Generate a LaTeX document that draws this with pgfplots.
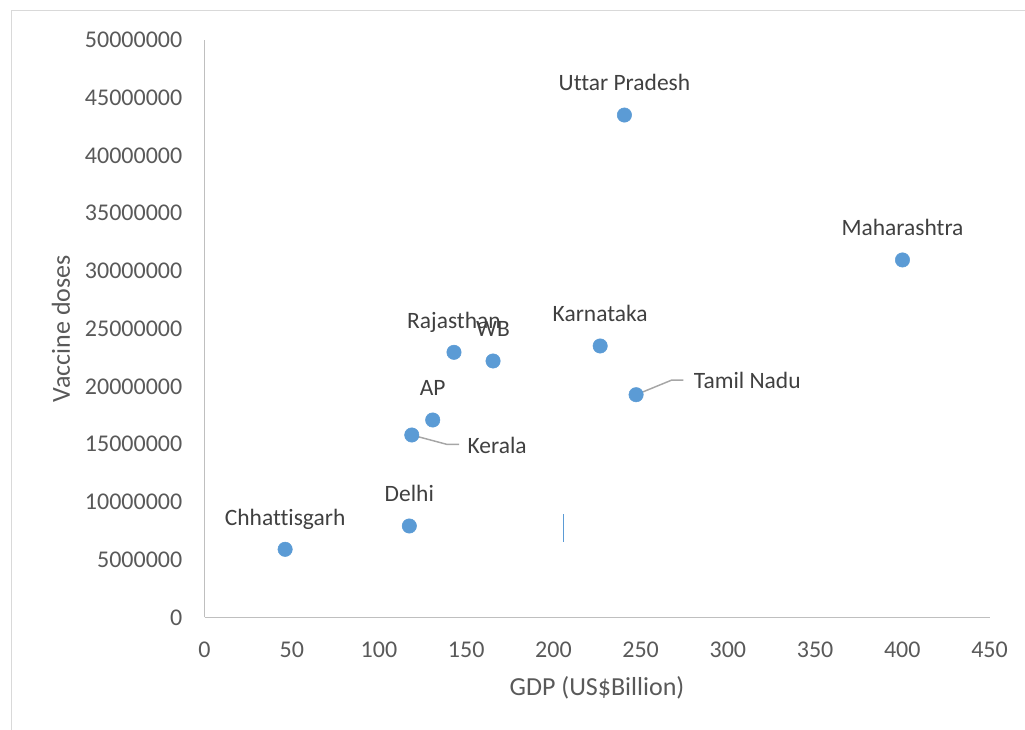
\documentclass[border=0pt]{standalone}
\usepackage{pgfplots}
\pgfplotsset{compat=1.18}
\usepackage{pgfplotstable}
\usepackage{fontspec}
\setmainfont{Carlito}[Ligatures=NoCommon]
\definecolor{pt}{HTML}{5B9BD5}
\definecolor{axl}{HTML}{BFBFBF}
\definecolor{tick}{HTML}{595959}
\definecolor{lab}{HTML}{404040}
\definecolor{lead}{HTML}{A6A6A6}
\definecolor{brd}{HTML}{D9D9D9}
\pgfplotstableread[col sep=comma]{
x,y,label,dx,dy
46.2,5890000,Chhattisgarh,0,18.2
117.4,7910000,Delhi,0,18.2
118.8,15790000,Kerala,64,-13.5
130.8,17090000,AP,0,18.2
143.0,22950000,Rajasthan,0,18.2
165.4,22200000,WB,0,18.2
226.8,23500000,Karnataka,0,18.2
247.4,19280000,Tamil Nadu,83.4,4.3
240.7,43500000,Uttar Pradesh,0,18.2
400.1,30950000,Maharashtra,0,18.2
}\statedata
\begin{document}
\begin{tikzpicture}
\useasboundingbox (0,0) rectangle (768.75pt,547.5pt);
\draw[brd, line width=0.75pt] (8.25pt,0) -- (8.25pt,539.25pt) -- (768.75pt,539.25pt);
\begin{axis}[
  name=ax,
  at={(153.4pt,84.5pt)}, anchor=south west,
  scale only axis, width=588.75pt, height=433pt,
  xmin=0, xmax=450, ymin=0, ymax=50000000,
  axis x line=bottom, axis y line=left,
  axis line style={axl, line width=0.75pt, -},
  major tick length=0pt,
  xtick={0,50,100,150,200,250,300,350,400,450},
  xticklabels={0,50,100,150,200,250,300,350,400,450},
  ytick={0,5000000,10000000,15000000,20000000,25000000,30000000,35000000,40000000,45000000,50000000},
  yticklabels={0,5000000,10000000,15000000,20000000,25000000,30000000,35000000,40000000,45000000,50000000},
  scaled x ticks=false, scaled y ticks=false,
  xticklabel style={font=\fontsize{18}{20}\selectfont, text=tick, inner sep=0pt, anchor=north, yshift=-18.3pt},
  yticklabel style={font=\fontsize{18}{20}\selectfont, text=tick, inner sep=0pt, anchor=east, xshift=-16.5pt},
  clip=false,
]
\addplot[only marks, mark=*, mark size=5.4pt, mark options={fill=pt, draw=pt},
  point meta=explicit symbolic,
  visualization depends on={\thisrow{dx} \as \labdx},
  visualization depends on={\thisrow{dy} \as \labdy},
  nodes near coords,
  every node near coord/.append style={anchor=base, inner sep=0pt, xshift=\labdx, yshift=\labdy,
    font=\fontsize{17.6}{20}\selectfont, text=lab},
] table[x=x, y=y, meta=label] {\statedata};
\draw[lead, line width=1.1pt] (axis cs:118.8,15790000) -- ++(26.25pt,-7pt) -- ++(9.25pt,0pt);
\draw[lead, line width=1.1pt] (axis cs:247.4,19280000) -- ++(26.8pt,11pt) -- ++(8.7pt,0pt);
\draw[pt, line width=0.9pt] (axis cs:205.6,6550000) -- (axis cs:205.6,8950000);
\end{axis}
\node[anchor=base, font=\fontsize{19.5}{22}\selectfont, text=tick] at ([yshift=-59pt]ax.south) {GDP (US\$Billion)};
\node[anchor=base, rotate=90, font=\fontsize{19.5}{22}\selectfont, text=tick] at ([xshift=-101pt]ax.west) {Vaccine doses};
\end{tikzpicture}
\end{document}
